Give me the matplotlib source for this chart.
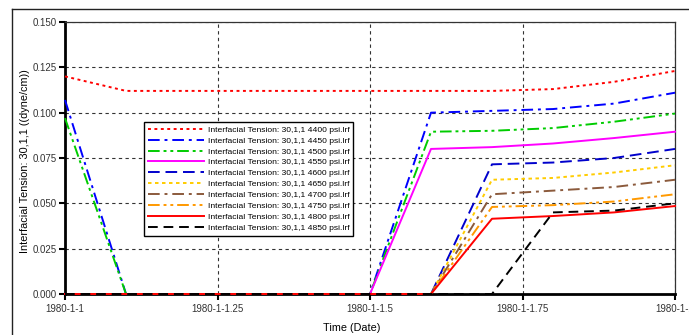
import matplotlib
matplotlib.use("Agg")
import matplotlib.pyplot as plt
from matplotlib.lines import Line2D

plt.rcParams['font.family'] = ['Liberation Sans', 'DejaVu Sans']

# ---- data ----
time = [0.0, 0.1, 0.2, 0.3, 0.4, 0.5, 0.6, 0.7, 0.8, 0.9, 1.0]
labels = ["Interfacial Tension: 30,1,1 %d psi.lrf" % p
          for p in [4400, 4450, 4500, 4550, 4600, 4650, 4700, 4750, 4800, 4850]]
s4400 = [0.120, 0.112, 0.112, 0.112, 0.112, 0.112, 0.112, 0.112, 0.113, 0.117, 0.123]
s4450 = [0.107, 0.0, 0.0, 0.0, 0.0, 0.0, 0.100, 0.101, 0.102, 0.105, 0.111]
s4500 = [0.097, 0.0, 0.0, 0.0, 0.0, 0.0, 0.0895, 0.090, 0.0915, 0.095, 0.0995]
s4550 = [0.0, 0.0, 0.0, 0.0, 0.0, 0.0, 0.080, 0.081, 0.083, 0.086, 0.0895]
s4600 = [0.0, 0.0, 0.0, 0.0, 0.0, 0.0, 0.0, 0.0715, 0.0725, 0.075, 0.080]
s4650 = [0.0, 0.0, 0.0, 0.0, 0.0, 0.0, 0.0, 0.063, 0.064, 0.067, 0.071]
s4700 = [0.0, 0.0, 0.0, 0.0, 0.0, 0.0, 0.0, 0.055, 0.057, 0.059, 0.063]
s4750 = [0.0, 0.0, 0.0, 0.0, 0.0, 0.0, 0.0, 0.048, 0.049, 0.051, 0.055]
s4800 = [0.0, 0.0, 0.0, 0.0, 0.0, 0.0, 0.0, 0.0415, 0.043, 0.045, 0.0485]
s4850 = [0.0, 0.0, 0.0, 0.0, 0.0, 0.0, 0.0, 0.0, 0.045, 0.046, 0.050]
series = [s4400, s4450, s4500, s4550, s4600, s4650, s4700, s4750, s4800, s4850]
xticks = [0.0, 0.25, 0.5, 0.75, 1.0]
xticklabels = ["1980-1-1", "1980-1-1.25", "1980-1-1.5", "1980-1-1.75", "1980-1-2"]
yticks = [0.0, 0.025, 0.05, 0.075, 0.1, 0.125, 0.15]

colors = ["#FF0000", "#0000FF", "#00CC00", "#FF00FF", "#0000CC",
          "#FFCC00", "#8B5A3C", "#FF9900", "#FF0000", "#000000"]
styles = [(0, (1.5, 1.8)), (0, (6, 2.5, 1.5, 2.5)), (0, (6, 2, 1.5, 2, 1.5, 2)), '-',
          (0, (6, 3)), (0, (1.8, 1.8)), (0, (6, 2.5, 1.5, 2.5)), (0, (6, 2, 1.5, 2, 1.5, 2)),
          '-', (0, (5, 3))]

fig = plt.figure(figsize=(6.89, 3.35), dpi=100)
ax = fig.add_axes([65 / 689, 1 - 294 / 335, 610 / 689, 272 / 335])

for s, c, ls, lab in zip(series, colors, styles, labels):
    ax.plot(time, s, color=c, linestyle=ls, linewidth=1.4, label=lab, clip_on=False, zorder=3)

ax.set_xlim(0, 1.0)
ax.set_ylim(0, 0.15)
ax.set_xticks(xticks)
ax.set_xticklabels(xticklabels)
ax.set_yticks(yticks)
ax.set_yticklabels(["%.3f" % v for v in yticks])
ax.tick_params(axis='both', labelsize=7, direction='out', length=4, width=1.5,
               colors='black', labelcolor='#333333')
ax.tick_params(axis='y', pad=2)
ax.tick_params(axis='x', pad=3)
ax.grid(True, color='#333333', linestyle=(0, (3, 3)), linewidth=0.8)
for side in ['left', 'bottom']:
    ax.spines[side].set_linewidth(2)
for side in ['top', 'right']:
    ax.spines[side].set_linewidth(0.9)
    ax.spines[side].set_color('#333333')

ax.set_xlabel("Time (Date)", fontsize=7.8)
ax.set_ylabel("Interfacial Tension: 30,1,1 ((dyne/cm))", fontsize=7.8)
ax.xaxis.set_label_coords((352 - 65) / 610, -(328 - 294) / 272)
ax.yaxis.set_label_coords(-(65 - 25) / 610, (294 - 161.5) / 272)
ax.xaxis.label.set_va('center')
ax.yaxis.label.set_va('center')

leg = ax.legend(loc='upper left', bbox_to_anchor=((144 - 65) / 610, (294 - 122) / 272),
                borderaxespad=0, fontsize=6.1, handlelength=6.6, handletextpad=0.45,
                labelspacing=0.35, fancybox=False, framealpha=1, borderpad=0.45)
leg.get_frame().set_edgecolor('black')
leg.get_frame().set_linewidth(1)
leg.set_zorder(5)

# outer frame
fig.add_artist(Line2D([11.5 / 689, 11.5 / 689], [0, 1 - 8.5 / 335], color='#222222', lw=1,
                      transform=fig.transFigure))
fig.add_artist(Line2D([11.5 / 689, 1], [1 - 8.5 / 335, 1 - 8.5 / 335], color='#222222', lw=1,
                      transform=fig.transFigure))

fig.savefig("out.png", dpi=100)
